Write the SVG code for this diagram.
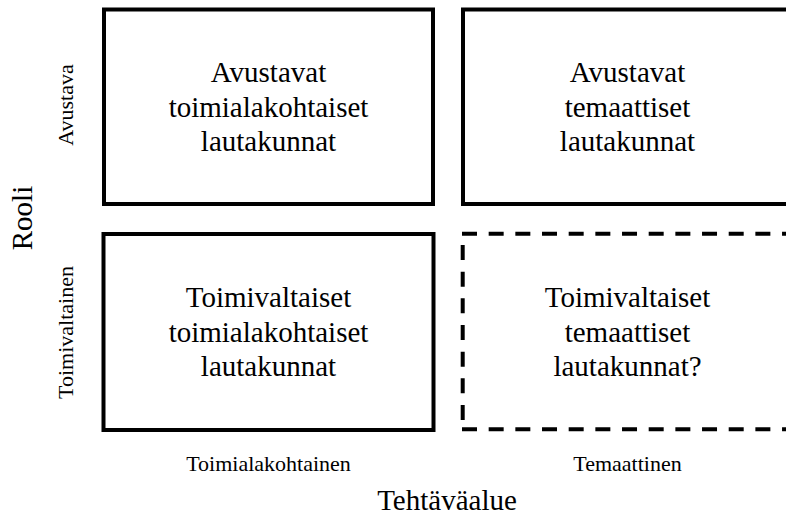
<svg xmlns="http://www.w3.org/2000/svg" width="786" height="516" viewBox="0 0 786 516">
  <defs>
    <style>
      .frame { fill: #ffffff; stroke: #000000; stroke-width: 4; }
      .frame-dashed { fill: none; stroke: #000000; stroke-width: 4; stroke-dasharray: 15 11.67; }
    </style>
  </defs>
  <rect width="786" height="516" fill="#ffffff"/>

  <!-- axis titles and category labels -->
  <g id="axis-labels" font-family="Liberation Serif, serif" fill="#000000" text-anchor="middle">
    <text font-size="29" transform="translate(32,218) rotate(-90)">Rooli</text>
    <text font-size="29" x="447" y="510">Tehtäväalue</text>
    <text font-size="22" transform="translate(73,105) rotate(-90)">Avustava</text>
    <text font-size="22" transform="translate(73,332.5) rotate(-90)">Toimivaltainen</text>
    <text font-size="22" x="268.5" y="471">Toimialakohtainen</text>
    <text font-size="22" x="627.5" y="471">Temaattinen</text>
  </g>

  <!-- quadrant cells -->
  <g id="avustavat-toimialakohtaiset" font-family="Liberation Serif, serif" font-size="29" fill="#000000" text-anchor="middle">
    <rect class="frame" x="104" y="9.5" width="329" height="194.5"/>
    <text x="268.5" y="82">Avustavat</text>
    <text x="268.5" y="116.5">toimialakohtaiset</text>
    <text x="268.5" y="151">lautakunnat</text>
  </g>

  <g id="avustavat-temaattiset" font-family="Liberation Serif, serif" font-size="29" fill="#000000" text-anchor="middle">
    <rect class="frame" x="463" y="9.5" width="329" height="194.5"/>
    <text x="627.5" y="82">Avustavat</text>
    <text x="627.5" y="116.5">temaattiset</text>
    <text x="627.5" y="151">lautakunnat</text>
  </g>

  <g id="toimivaltaiset-toimialakohtaiset" font-family="Liberation Serif, serif" font-size="29" fill="#000000" text-anchor="middle">
    <rect class="frame" x="103.5" y="234" width="330" height="196"/>
    <text x="268.5" y="307">Toimivaltaiset</text>
    <text x="268.5" y="341.5">toimialakohtaiset</text>
    <text x="268.5" y="376">lautakunnat</text>
  </g>

  <g id="toimivaltaiset-temaattiset" font-family="Liberation Serif, serif" font-size="29" fill="#000000" text-anchor="middle">
    <line class="frame-dashed" x1="462" y1="233.7" x2="800" y2="233.7"/>
    <line class="frame-dashed" x1="462" y1="429.3" x2="800" y2="429.3"/>
    <line class="frame-dashed" x1="462.7" y1="245" x2="462.7" y2="420"/>
    <text x="627.5" y="307">Toimivaltaiset</text>
    <text x="627.5" y="341.5">temaattiset</text>
    <text x="627.5" y="376">lautakunnat?</text>
  </g>

  <g id="connectors"></g>
</svg>
